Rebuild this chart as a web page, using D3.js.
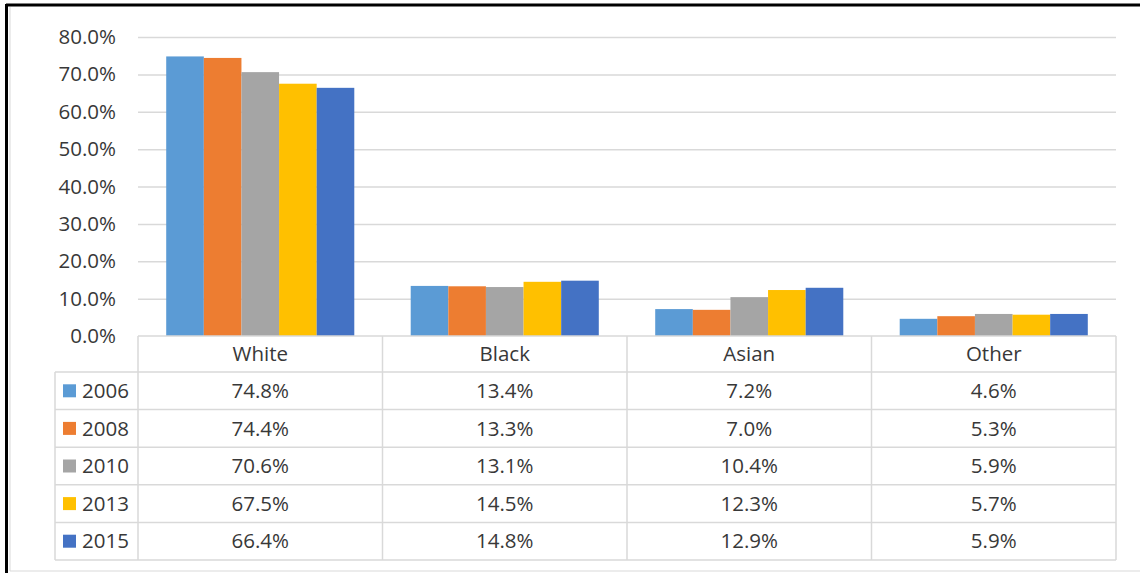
<!DOCTYPE html>
<html>
<head>
<meta charset="utf-8">
<script src="https://cdn.jsdelivr.net/npm/d3@7"></script>
<style>
  body { margin: 0; background: #fff; }
  text { font-family: 'Open Sans', sans-serif; fill: #383838; }
</style>
</head>
<body>
<div id="chart"></div>
<script>
var categories = ['White', 'Black', 'Asian', 'Other'];
var years = ['2006', '2008', '2010', '2013', '2015'];
var v2006 = [74.8, 13.4, 7.2, 4.6];
var v2008 = [74.4, 13.3, 7.0, 5.3];
var v2010 = [70.6, 13.1, 10.4, 5.9];
var v2013 = [67.5, 14.5, 12.3, 5.7];
var v2015 = [66.4, 14.8, 12.9, 5.9];
var yTicks = [0, 10, 20, 30, 40, 50, 60, 70, 80];
var colors = ['#5b9bd5', '#ed7d31', '#a5a5a5', '#ffc000', '#4472c4'];

var series = [v2006, v2008, v2010, v2013, v2015];

var W = 1140, H = 573;
var plot = {left: 138, right: 1116, top: 37, bottom: 336};
var rowH = 37.6;
var headH = 36;
var tableLeft = 55;
var fs = '20.5px';

var svg = d3.select('#chart').append('svg')
    .attr('width', W)
    .attr('height', H);

// frame
svg.append('line').attr('x1', 6).attr('x2', W).attr('y1', 5).attr('y2', 5)
    .attr('stroke', '#000').attr('stroke-width', 3);
svg.append('line').attr('x1', 6.5).attr('x2', 6.5).attr('y1', 4).attr('y2', H)
    .attr('stroke', '#000').attr('stroke-width', 3);
svg.append('line').attr('x1', 10).attr('x2', 10).attr('y1', 7).attr('y2', 571)
    .attr('stroke', '#d9d9d9').attr('stroke-width', 1);
svg.append('line').attr('x1', 10).attr('x2', W).attr('y1', 571).attr('y2', 571)
    .attr('stroke', '#d9d9d9').attr('stroke-width', 1);

var x = d3.scaleBand()
    .domain(categories)
    .range([plot.left, plot.right])
    .padding(0);

var xs = d3.scaleBand()
    .domain(years)
    .range([0, x.bandwidth()])
    .paddingInner(0)
    .paddingOuter(0.75);

var y = d3.scaleLinear()
    .domain([0, 80])
    .range([plot.bottom, plot.top]);

// y axis with gridlines
var yAxis = d3.axisLeft(y)
    .tickValues(yTicks)
    .tickSize(0)
    .tickPadding(22)
    .tickFormat(d => d.toFixed(1) + '%');

svg.append('g')
    .attr('transform', `translate(${plot.left}, 0)`)
    .call(yAxis)
    .call(g => g.select('.domain').remove())
    .call(g => g.selectAll('.tick text')
        .style('font-size', fs)
        .style('font-family', "'Open Sans', sans-serif")
        .attr('fill', '#383838'))
    .call(g => g.selectAll('.tick').filter(d => d > 0).select('line')
        .attr('x2', plot.right - plot.left)
        .attr('stroke', '#d9d9d9')
        .attr('stroke-width', 1.5));

// bars
years.forEach((yr, i) => {
    svg.append('g').selectAll('rect')
        .data(series[i])
        .enter().append('rect')
        .attr('x', (d, j) => x(categories[j]) + xs(yr))
        .attr('width', xs.bandwidth())
        .attr('y', d => y(d))
        .attr('height', d => y(0) - y(d))
        .attr('fill', colors[i]);
});

// data table
var tTop = plot.bottom;
var rowsTop = tTop + headH;
var tBottom = rowsTop + rowH * years.length;
var grid = svg.append('g').attr('stroke', '#d9d9d9').attr('stroke-width', 1.5);

grid.append('line').attr('x1', plot.left).attr('x2', plot.right).attr('y1', tTop).attr('y2', tTop);
for (var r = 0; r <= years.length; r++) {
    grid.append('line')
        .attr('x1', tableLeft).attr('x2', plot.right)
        .attr('y1', rowsTop + r * rowH).attr('y2', rowsTop + r * rowH);
}
grid.append('line').attr('x1', tableLeft).attr('x2', tableLeft).attr('y1', rowsTop).attr('y2', tBottom);
x.domain().concat(['end']).forEach((c, i) => {
    var xx = plot.left + i * x.bandwidth();
    grid.append('line').attr('x1', xx).attr('x2', xx).attr('y1', tTop).attr('y2', tBottom);
});

// header
svg.append('g').selectAll('text')
    .data(categories)
    .enter().append('text')
    .attr('x', d => x(d) + x.bandwidth() / 2)
    .attr('y', tTop + headH / 2)
    .attr('dy', '0.35em')
    .attr('text-anchor', 'middle')
    .style('font-size', fs)
    .text(d => d);

// rows
years.forEach((yr, i) => {
    var cy = rowsTop + i * rowH + rowH / 2;
    svg.append('rect')
        .attr('x', 63).attr('y', cy - 6.5)
        .attr('width', 13).attr('height', 13)
        .attr('fill', colors[i]);
    svg.append('text')
        .attr('x', 82).attr('y', cy)
        .attr('dy', '0.35em')
        .style('font-size', fs)
        .text(yr);
    svg.append('g').selectAll('text')
        .data(series[i])
        .enter().append('text')
        .attr('x', (d, j) => x(categories[j]) + x.bandwidth() / 2)
        .attr('y', cy)
        .attr('dy', '0.35em')
        .attr('text-anchor', 'middle')
        .style('font-size', fs)
        .text(d => d.toFixed(1) + '%');
});
</script>
</body>
</html>
